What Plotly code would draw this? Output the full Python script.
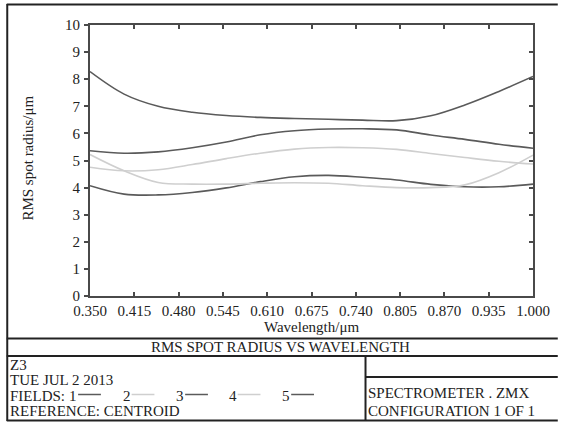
import plotly.graph_objects as go

# ---- data ----
wavelength = [0.35, 0.40, 0.45, 0.50, 0.55, 0.60, 0.65, 0.70, 0.75, 0.80, 0.85, 0.90, 0.95, 1.00]
field1 = [4.07, 3.76, 3.73, 3.82, 3.99, 4.22, 4.40, 4.45, 4.38, 4.28, 4.12, 4.03, 4.03, 4.13]
field2 = [5.22, 4.62, 4.19, 4.13, 4.13, 4.16, 4.18, 4.16, 4.07, 4.00, 4.00, 4.10, 4.55, 5.20]
field3 = [5.36, 5.27, 5.32, 5.47, 5.68, 5.95, 6.10, 6.16, 6.17, 6.13, 5.94, 5.78, 5.60, 5.45]
field4 = [4.75, 4.62, 4.66, 4.85, 5.07, 5.27, 5.42, 5.48, 5.47, 5.41, 5.26, 5.11, 4.97, 4.87]
field5 = [8.28, 7.45, 7.00, 6.78, 6.66, 6.59, 6.55, 6.52, 6.49, 6.47, 6.65, 7.05, 7.55, 8.10]
field_names = ["1", "2", "3", "4", "5"]
x_ticks = [0.350, 0.415, 0.480, 0.545, 0.610, 0.675, 0.740, 0.805, 0.870, 0.935, 1.000]
x_ticklabels = ["0.350", "0.415", "0.480", "0.545", "0.610", "0.675", "0.740", "0.805", "0.870", "0.935", "1.000"]
y_ticks = [0, 1, 2, 3, 4, 5, 6, 7, 8, 9, 10]

DARK = "#5a5a5a"
LIGHT = "#cfcfcf"
colors = [DARK, LIGHT, DARK, LIGHT, DARK]
series = [field1, field2, field3, field4, field5]

W, H = 562, 425
L, R, T, B = 90, 537, 25, 296  # plot area in pixels
FONT = "Liberation Serif, Times New Roman, serif"
FS = 15
TFS = 15
TXT = "#222"


def px(xp):
    return (xp - L) / (R - L)


def py(yp):
    return (B - yp) / (B - T)


fig = go.Figure()
for name, ys, c in zip(field_names, series, colors):
    fig.add_trace(go.Scatter(x=wavelength, y=ys, mode="lines", name=name,
                             line=dict(color=c, width=1.6, shape="spline", smoothing=1.0),
                             showlegend=False, hoverinfo="skip"))
# invisible trace for right axis
fig.add_trace(go.Scatter(x=[0.35], y=[0], yaxis="y2", mode="markers",
                         marker=dict(opacity=0), showlegend=False, hoverinfo="skip"))

axis_line = "#4a4a4a"
fig.update_layout(
    width=W, height=H,
    margin=dict(l=L, r=W - R, t=T, b=H - B, pad=0),
    paper_bgcolor="white", plot_bgcolor="white",
    font=dict(family=FONT, size=FS, color=TXT),
    xaxis=dict(range=[0.35, 1.0], tickvals=x_ticks, ticktext=x_ticklabels,
               ticks="inside", ticklen=4, tickwidth=1.5, tickcolor=axis_line,
               showline=True, linecolor=axis_line, linewidth=2, mirror="ticks",
               showgrid=False, zeroline=False, ticklabelstandoff=0,
               tickfont=dict(family=FONT, size=TFS, color=TXT)),
    yaxis=dict(range=[0, 10], tickvals=y_ticks,
               ticks="outside", ticklen=4, tickwidth=1.5, tickcolor=axis_line,
               showline=True, linecolor=axis_line, linewidth=2,
               showgrid=False, zeroline=False, ticklabelstandoff=1,
               tickfont=dict(family=FONT, size=TFS, color=TXT)),
    yaxis2=dict(range=[0, 10], tickvals=y_ticks, overlaying="y", side="right",
                ticks="inside", ticklen=4, tickwidth=1.5, tickcolor=axis_line,
                showline=True, linecolor=axis_line, linewidth=2,
                showticklabels=False, showgrid=False, zeroline=False),
)

ann = []


def text(t, x, y, anchor="left", angle=0, size=FS):
    ann.append(dict(text=t, x=px(x), y=py(y), xref="paper", yref="paper", showarrow=False,
                    textangle=angle, font=dict(family=FONT, size=size, color=TXT),
                    xanchor=anchor, yanchor="middle", borderpad=0))


text("RMS spot radius/μm", 27, 158, "center", -90, TFS)
text("Wavelength/μm", 313, 327, "center", 0, TFS)
text("RMS SPOT RADIUS VS WAVELENGTH", 282, 347, "center")
text("Z3", 8, 364.5)
text("TUE JUL 2 2013", 8, 380)
text("FIELDS:", 8, 395.5)
text("REFERENCE: CENTROID", 8, 411)
text("SPECTROMETER . ZMX", 370, 393)
text("CONFIGURATION 1 OF 1", 370, 411)

# legend items in FIELDS row
legend_x = [68, 122, 176, 229, 283]
shapes = []
for name, c, lx in zip(field_names, colors, legend_x):
    text(name, lx, 395.5)
    shapes.append(dict(type="line", xref="paper", yref="paper", x0=px(lx + 10), x1=px(lx + 33),
                       y0=py(394.5), y1=py(394.5), line=dict(color=c, width=1.5)))

frame = "#222"


def hline(x0, x1, y):
    shapes.append(dict(type="line", xref="paper", yref="paper", x0=px(x0), x1=px(x1),
                       y0=py(y), y1=py(y), line=dict(color=frame, width=2)))


def vline(x, y0, y1):
    shapes.append(dict(type="line", xref="paper", yref="paper", x0=px(x), x1=px(x),
                       y0=py(y0), y1=py(y1), line=dict(color=frame, width=2)))


hline(6, 562, 4.5)
vline(6.5, 4, 421)
hline(6, 562, 338.5)
hline(6, 562, 356)
hline(6, 562, 420.5)
vline(368, 356, 421)
hline(368, 562, 377)

fig.update_layout(annotations=ann, shapes=shapes)
fig.write_html("out.html")
